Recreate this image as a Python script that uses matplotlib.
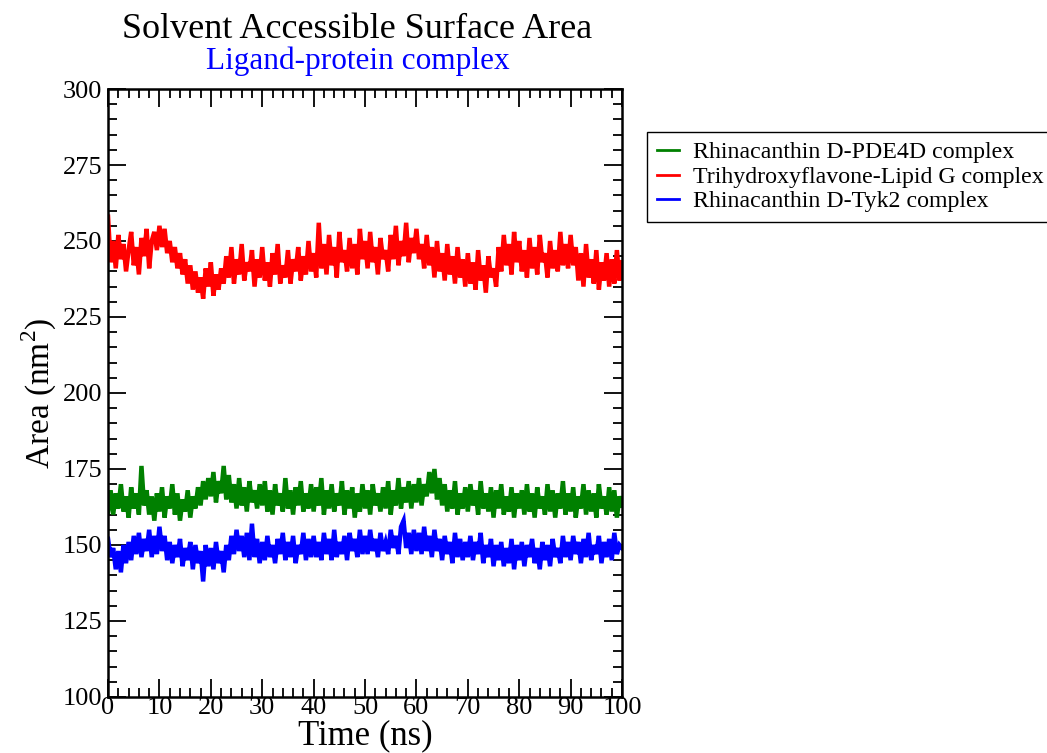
import numpy as np
import matplotlib
matplotlib.use("Agg")
import matplotlib.pyplot as plt
from matplotlib.ticker import MultipleLocator

plt.rcParams['font.family'] = ['Liberation Serif', 'DejaVu Serif']
plt.rcParams['mathtext.fontset'] = 'custom'
plt.rcParams['mathtext.rm'] = 'Liberation Serif'

# time axis, 0.5 ns sampling
time_ns = np.linspace(0, 100, 201)

labels = ["Rhinacanthin D-PDE4D complex",
          "Trihydroxyflavone-Lipid G complex",
          "Rhinacanthin D-Tyk2 complex"]
colors = ["#008000", "#ff0000", "#0000ff"]

# SASA values (nm^2)
sasa_pde4d = [
    161, 168, 160, 167, 162, 170, 161, 166, 159, 169, 162, 167, 160, 176, 163, 168, 160, 166, 158, 167,
    161, 169, 159, 166, 162, 170, 160, 167, 158, 165, 161, 168, 159, 166, 162, 169, 163, 171, 165, 172,
    166, 174, 164, 171, 167, 176, 165, 173, 164, 170, 162, 172, 163, 169, 161, 171, 164, 168, 162, 170,
    163, 171, 161, 168, 160, 170, 163, 167, 161, 172, 162, 168, 160, 169, 163, 171, 161, 167, 162, 170,
    161, 169, 163, 172, 160, 168, 162, 170, 161, 167, 163, 171, 160, 168, 162, 169, 159, 167, 161, 170,
    162, 168, 160, 170, 163, 167, 161, 169, 162, 171, 160, 168, 163, 172, 162, 169, 164, 171, 162, 170,
    164, 172, 163, 170, 166, 174, 167, 175, 165, 172, 163, 170, 161, 168, 162, 171, 160, 167, 162, 169,
    161, 170, 163, 168, 160, 171, 162, 167, 161, 169, 159, 168, 162, 170, 160, 166, 161, 169, 159, 167,
    162, 168, 160, 170, 161, 167, 159, 169, 162, 166, 160, 170, 161, 168, 159, 167, 162, 171, 160, 167,
    161, 169, 159, 166, 162, 170, 160, 168, 161, 167, 159, 170, 162, 166, 160, 169, 161, 168, 159, 166,
    163]

sasa_lipidg = [
    258, 243, 250, 241, 252, 244, 249, 240, 247, 253, 242, 248, 239, 251, 245, 254, 241, 250, 253, 247,
    255, 248, 254, 246, 250, 243, 248, 241, 246, 239, 244, 236, 242, 234, 240, 233, 238, 231, 241, 235,
    243, 232, 239, 234, 241, 236, 245, 238, 248, 236, 244, 239, 249, 237, 243, 240, 247, 235, 244, 238,
    248, 237, 243, 235, 246, 239, 249, 236, 242, 238, 247, 236, 244, 240, 248, 237, 245, 239, 250, 240,
    246, 238, 256, 241, 249, 239, 252, 242, 248, 238, 253, 243, 247, 240, 251, 241, 249, 239, 254, 244,
    250, 241, 253, 243, 248, 239, 251, 244, 247, 240, 252, 244, 255, 242, 250, 245, 256, 243, 251, 246,
    254, 244, 249, 241, 252, 242, 248, 238, 250, 240, 246, 237, 249, 239, 245, 236, 248, 238, 244, 235,
    246, 236, 243, 234, 247, 237, 242, 233, 245, 238, 241, 235, 248, 240, 252, 242, 249, 239, 253, 243,
    250, 240, 247, 238, 251, 241, 248, 239, 252, 243, 246, 238, 250, 241, 247, 240, 253, 242, 249, 241,
    252, 242, 248, 237, 246, 235, 249, 238, 244, 236, 247, 234, 243, 237, 246, 235, 244, 236, 247, 237,
    243]

sasa_tyk2 = [
    152, 146, 149, 142, 148, 141, 150, 144, 151, 145, 153, 147, 154, 146, 152, 148, 155, 146, 153, 147,
    156, 148, 153, 145, 151, 144, 150, 146, 152, 143, 149, 145, 151, 142, 150, 144, 148, 138, 150, 143,
    149, 142, 151, 144, 148, 141, 150, 145, 153, 147, 155, 148, 153, 146, 154, 145, 157, 146, 152, 144,
    151, 145, 153, 146, 150, 144, 152, 147, 154, 145, 151, 146, 153, 144, 150, 147, 154, 145, 152, 146,
    153, 146, 151, 145, 154, 147, 152, 145, 155, 146, 151, 147, 153, 145, 154, 148, 152, 146, 155, 147,
    153, 147, 155, 148, 152, 146, 154, 148, 151, 147, 155, 149, 153, 147, 156, 158, 149, 154, 147, 155,
    148, 154, 147, 156, 148, 153, 146, 155, 148, 152, 145, 153, 147, 151, 144, 154, 146, 152, 145, 151,
    146, 153, 145, 151, 147, 154, 144, 150, 146, 152, 143, 150, 145, 151, 143, 149, 144, 152, 142, 150,
    145, 151, 143, 150, 146, 152, 144, 149, 142, 151, 145, 150, 143, 152, 146, 149, 144, 153, 146, 151,
    145, 153, 147, 151, 144, 152, 146, 154, 145, 150, 147, 153, 144, 151, 146, 152, 145, 154, 147, 150,
    149]

fig = plt.figure(figsize=(10.47, 7.53), dpi=100)
ax = fig.add_axes([0.1032, 0.0744, 0.4909, 0.8074])

for vals, lab, col in zip([sasa_pde4d, sasa_lipidg, sasa_tyk2], labels, colors):
    ax.plot(time_ns, vals, color=col, linewidth=3.2, solid_joinstyle='miter', label=lab)

ax.set_xlim(0, 100)
ax.set_ylim(100, 300)
ax.xaxis.set_major_locator(MultipleLocator(10))
ax.xaxis.set_minor_locator(MultipleLocator(2))
ax.yaxis.set_major_locator(MultipleLocator(25))
ax.yaxis.set_minor_locator(MultipleLocator(5))
ax.tick_params(which='both', direction='in', top=True, right=True, labelsize=19, width=1.3)
ax.tick_params(which='major', length=13, pad=4)
ax.tick_params(which='minor', length=6.5)
ax.tick_params(axis='x', which='major', pad=0)
for sp in ax.spines.values():
    sp.set_linewidth(1.8)

ax.set_xlabel("Time (ns)", fontsize=25, labelpad=0)
ax.set_ylabel("Area (nm$^{2}$)", fontsize=24, labelpad=3)

fig.text(0.3415, 0.949, "Solvent Accessible Surface Area", ha='center', va='baseline', fontsize=26)
fig.text(0.3415, 0.908, "Ligand-protein complex", ha='center', va='baseline', fontsize=22.5, color='#0000ff')

leg = fig.legend(loc='upper left', bbox_to_anchor=(0.618, 0.8247), borderaxespad=0,
                 fontsize=17.2, handlelength=0.92, handletextpad=0.62, labelspacing=0.12,
                 fancybox=False, edgecolor='black', framealpha=1, borderpad=0.4)
leg.get_frame().set_linewidth(1.0)
for line in leg.get_lines():
    line.set_linewidth(2)

plt.savefig("out.png", dpi=100)
